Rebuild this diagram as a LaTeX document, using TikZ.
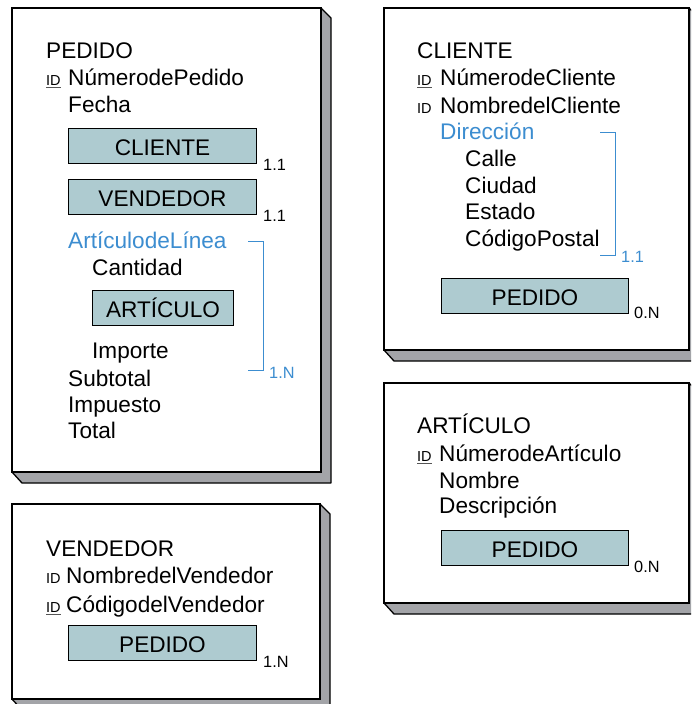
\documentclass[tikz,border=0pt]{standalone}
\usepackage{fontspec}
\setmainfont{Liberation Sans}
\usepackage{tikz}
\usetikzlibrary{positioning,calc}
\definecolor{refblue}{HTML}{AECBD0}
\definecolor{shadegray}{HTML}{A3A4A8}
\definecolor{grpblue}{HTML}{3C8DD0}
\definecolor{idline}{HTML}{555555}

\begin{document}
\begin{tikzpicture}[x=1pt,y=-1pt,
  attr/.style={anchor=base west,inner sep=0pt,font=\fontsize{22.6}{26}\selectfont},
  card/.style={anchor=base west,inner sep=0pt,font=\fontsize{16.3}{18}\selectfont},
  idtag/.style={anchor=base west,inner sep=0pt,font=\fontsize{14.5}{16}\selectfont},
  refbox/.style={draw,line width=1pt,fill=refblue,anchor=north west,minimum height=35pt,
    text height=19pt,text depth=0pt,inner sep=0pt,font=\fontsize{22.6}{26}\selectfont},
  grptext/.style={text=grpblue},
  bracket/.style={draw=grpblue,line width=1pt},
  idrule/.style={draw=idline,line width=0.9pt}]
  \useasboundingbox (0,0) rectangle (691,704);
  \clip (0,0) rectangle (691,704);
  % the four entity cards with their shadow
  \foreach \l/\t/\r/\b in {12/8/321/472, 12/504/320/699, 384/8/689/350, 384/383/689/603} {
    \draw[fill=shadegray,line width=1.3pt,line join=round]
      (\r,\t) -- (\r+10,\t+10) -- (\r+10,\b+11) -- (\l+10,\b+11) -- (\l,\b) -- (\r,\b) -- cycle;
    \draw[fill=white,line width=1.4pt] (\l,\t) rectangle (\r,\b);
  }

  % PEDIDO
  \node[attr] (ped) at (46,58) {PEDIDO};
  \node[idtag] (pedid) at (46,85) {ID};
  \draw[idrule] ([yshift=-2.5pt]pedid.south west) -- ([yshift=-2.5pt]pedid.south east);
  \node[attr] (pednum) at (68,85) {NúmerodePedido};
  \node[attr] (pedfecha) at (68,112) {Fecha};
  \node[refbox,minimum width=188pt] (pedcli) at (68,128) {CLIENTE};
  \node[card] (pedcli11) at (263,170) {1.1};
  \node[refbox,minimum width=188pt] (pedven) at (68,179) {VENDEDOR};
  \node[card] (pedven11) at (263,221) {1.1};
  \node[attr,grptext] (pedlin) at (68,248) {ArtículodeLínea};
  \draw[bracket] (248,241) -- (263,241) -- (263,370) -- (248,370);
  \node[card,grptext] (pedlin1N) at (269,378) {1.N};
  \node[attr] (pedcant) at (92,275) {Cantidad};
  \node[refbox,minimum width=141pt] (pedart) at (92,290) {ARTÍCULO};
  \node[attr] (pedimp) at (92,358) {Importe};
  \node[attr] (pedsub) at (68,386) {Subtotal};
  \node[attr] (pedtax) at (68,412) {Impuesto};
  \node[attr] (pedtot) at (68,438) {Total};

  % VENDEDOR
  \node[attr] (ven) at (46,556) {VENDEDOR};
  \node[idtag] (venid) at (46,583) {ID};
  \node[attr] (vennom) at (66,583) {NombredelVendedor};
  \node[idtag] (venid2) at (46,612) {ID};
  \draw[idrule] ([yshift=-2.5pt]venid2.south west) -- ([yshift=-2.5pt]venid2.south east);
  \node[attr] (vencod) at (66,612) {CódigodelVendedor};
  \node[refbox,minimum width=188pt] (venped) at (68,625) {PEDIDO};
  \node[card] (venped1N) at (263,667) {1.N};

  % CLIENTE
  \node[attr] (cli) at (417,58) {CLIENTE};
  \node[idtag] (cliid) at (417,85) {ID};
  \draw[idrule] ([yshift=-2.5pt]cliid.south west) -- ([yshift=-2.5pt]cliid.south east);
  \node[attr] (clinum) at (440,85) {NúmerodeCliente};
  \node[idtag] (cliid2) at (417,113) {ID};
  \node[attr] (clinom) at (440,113) {NombredelCliente};
  \node[attr,grptext] (clidir) at (440,139) {Dirección};
  \draw[bracket] (600,132) -- (615,132) -- (615,255) -- (600,255);
  \node[card,grptext] (clidir11) at (621,262) {1.1};
  \node[attr] (clicalle) at (465,166) {Calle};
  \node[attr] (cliciu) at (465,193) {Ciudad};
  \node[attr] (cliest) at (465,219) {Estado};
  \node[attr] (clicp) at (465,246) {CódigoPostal};
  \node[refbox,minimum width=187pt] (cliped) at (441,278) {PEDIDO};
  \node[card] (cliped0N) at (634,318) {0.N};

  % ARTICULO
  \node[attr] (art) at (417,433) {ARTÍCULO};
  \node[idtag] (artid) at (417,461) {ID};
  \draw[idrule] ([yshift=-2.5pt]artid.south west) -- ([yshift=-2.5pt]artid.south east);
  \node[attr] (artnum) at (439,461) {NúmerodeArtículo};
  \node[attr] (artnom) at (439,488) {Nombre};
  \node[attr] (artdesc) at (439,513) {Descripción};
  \node[refbox,minimum width=187pt] (artped) at (441,530) {PEDIDO};
  \node[card] (artped0N) at (634,572) {0.N};
\end{tikzpicture}
\end{document}
